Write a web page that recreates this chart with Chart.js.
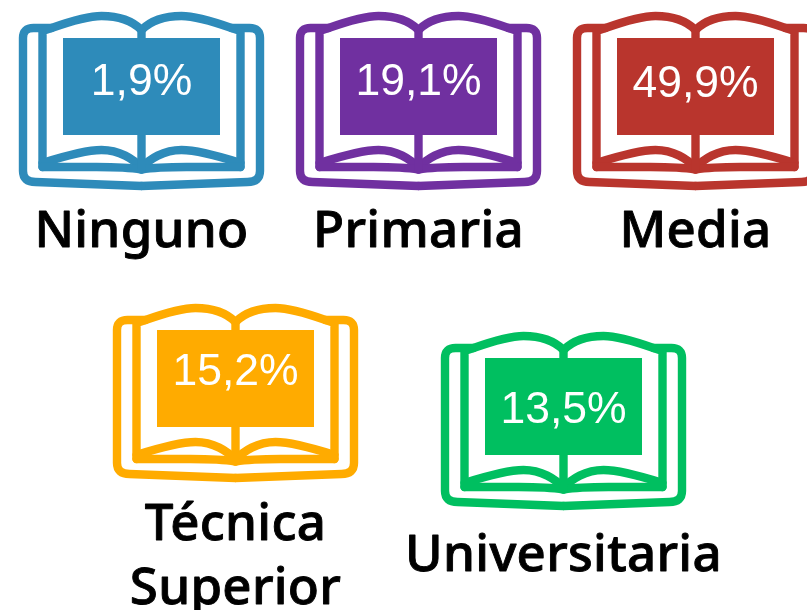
<!DOCTYPE html>
<html lang="es">
<head>
    <meta charset="UTF-8">
    <title>Nivel educativo</title>
    <script src="https://cdn.jsdelivr.net/npm/chart.js"></script>
    <style>
        html, body { margin: 0; padding: 0; background: #fff; overflow: hidden; }
        canvas { display: block; }
    </style>
</head>
<body>
    <canvas id="myChart" width="807" height="610"></canvas>

    <script>
        // Chart data
        const categories = ['Ninguno', 'Primaria', 'Media', 'Técnica Superior', 'Universitaria'];
        const percentages = [1.9, 19.1, 49.9, 15.2, 13.5];
        const colors = ['#2e8bba', '#7030a0', '#b9352d', '#ffab00', '#00bf60'];

        // Layout, in page pixels (the axes run 0-807 and 0-610)
        const bookX = [141.5, 418.5, 695.5, 235.5, 563.5];
        const bookY = [98, 98, 98, 390, 418];
        const percentBaseline = [95, 95, 97, 385, 423];
        const nameLines = [['Ninguno'], ['Primaria'], ['Media'], ['Técnica', 'Superior'], ['Universitaria']];
        const nameBaseline = [247, 247, 247, 540, 571];
        const nameLineHeight = 64;

        // Book icon with the coloured label block, used as the point style
        function makeBook(color) {
            const icon = document.createElement('canvas');
            icon.width = 261;
            icon.height = 200;
            const c = icon.getContext('2d');
            c.translate(130.5, 40);
            c.strokeStyle = color;
            c.fillStyle = color;
            c.lineWidth = 8.4;
            c.lineJoin = 'round';
            c.lineCap = 'round';

            [-1, 1].forEach(function (side) {
                c.save();
                c.scale(side, 1);
                // cover
                c.beginPath();
                c.moveTo(-90, -10);
                c.lineTo(-108, -10);
                c.quadraticCurveTo(-118.5, -10, -118.5, 0);
                c.lineTo(-118.5, 133);
                c.quadraticCurveTo(-118.5, 144, -106, 144);
                c.lineTo(0, 148);
                c.stroke();
                // top of the page
                c.beginPath();
                c.moveTo(-99, 129);
                c.lineTo(-99, -7);
                c.lineTo(-90, -10);
                c.bezierCurveTo(-70, -17, -52, -22, -40, -22);
                c.bezierCurveTo(-22, -22, -8, -16, 0, -8);
                c.stroke();
                // bottom curve of the page
                c.beginPath();
                c.moveTo(-99, 125);
                c.bezierCurveTo(-80, 119, -55, 112, -40, 112);
                c.bezierCurveTo(-22, 112, -8, 121, 0, 130);
                c.stroke();
                // bottom edge
                c.beginPath();
                c.moveTo(-99, 129);
                c.lineTo(-45, 129);
                c.bezierCurveTo(-28, 129, -12, 129.5, 0, 131.5);
                c.stroke();
                c.restore();
            });

            // spine
            c.beginPath();
            c.moveTo(0, -8);
            c.lineTo(0, 131);
            c.stroke();

            c.fillRect(-78.5, 0, 157, 97);
            return icon;
        }

        // Percentages and names are written on top of the icons
        const bookText = {
            id: 'bookText',
            afterDatasetsDraw(chart) {
                const c = chart.ctx;
                const xScale = chart.scales.x;
                const yScale = chart.scales.y;
                c.save();
                c.textAlign = 'center';
                c.textBaseline = 'alphabetic';
                c.lineJoin = 'round';
                percentages.forEach(function (value, i) {
                    const x = xScale.getPixelForValue(bookX[i]);
                    c.fillStyle = '#ffffff';
                    c.letterSpacing = '0px';
                    c.font = '44.5px "Liberation Sans"';
                    c.fillText(value.toFixed(1).replace('.', ',') + '%', x, yScale.getPixelForValue(percentBaseline[i]));
                    c.fillStyle = '#000000';
                    c.strokeStyle = '#000000';
                    c.lineWidth = 0.9; // the installed medium weight is lighter than the reference
                    c.letterSpacing = '0.3px';
                    c.font = '500 51px "Noto Sans"';
                    nameLines[i].forEach(function (line, n) {
                        const y = yScale.getPixelForValue(nameBaseline[i] + n * nameLineHeight);
                        c.fillText(line, x, y);
                        c.strokeText(line, x, y);
                    });
                });
                c.restore();
            }
        };

        const ctx = document.getElementById('myChart').getContext('2d');
        const chart = new Chart(ctx, {
            type: 'scatter',
            data: {
                labels: categories,
                datasets: [{
                    label: 'Nivel educativo',
                    data: percentages.map(function (value, i) {
                        return { x: bookX[i], y: bookY[i], value: value };
                    }),
                    pointStyle: colors.map(makeBook),
                    clip: false
                }]
            },
            options: {
                responsive: false,
                animation: false,
                layout: { padding: 0, autoPadding: false },
                plugins: { legend: { display: false }, tooltip: { enabled: false } },
                scales: {
                    x: { type: 'linear', display: false, min: 0, max: 807 },
                    y: { type: 'linear', display: false, min: 0, max: 610, reverse: true }
                }
            },
            plugins: [bookText]
        });
    </script>
</body>
</html>
